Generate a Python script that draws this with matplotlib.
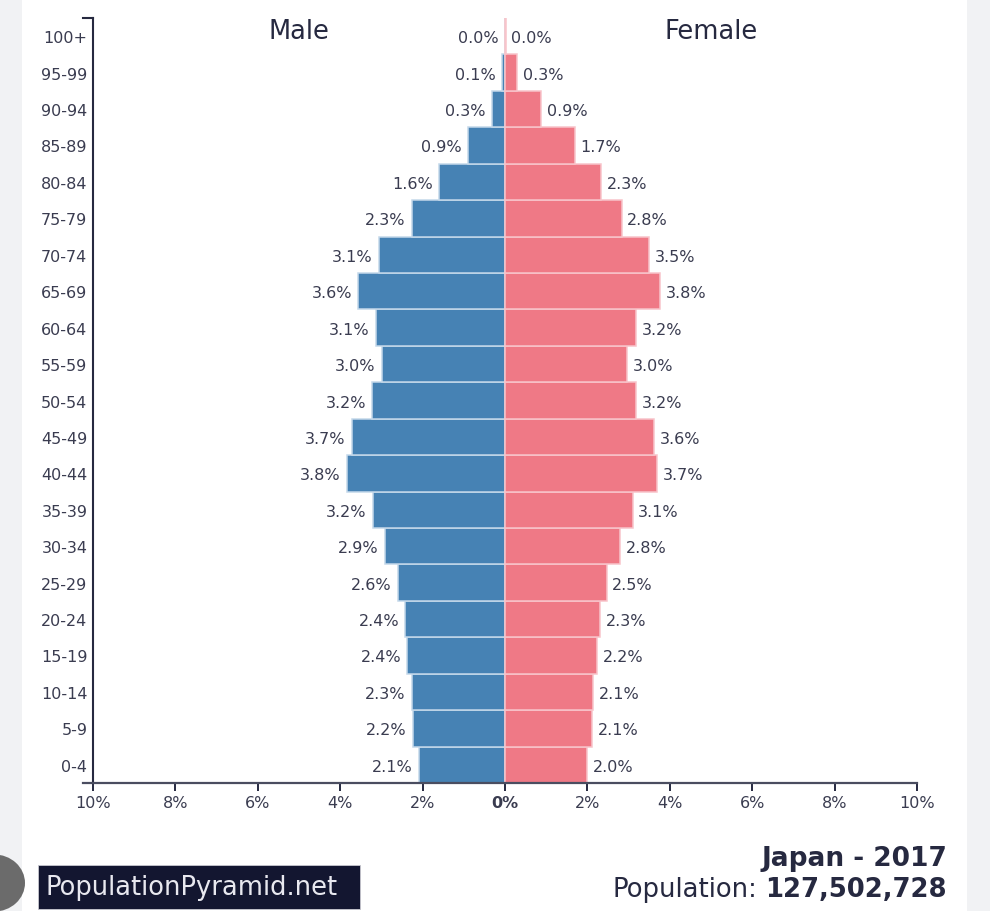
import matplotlib
matplotlib.use("Agg")
import matplotlib.pyplot as plt
from matplotlib.patches import Rectangle, Circle
from matplotlib.lines import Line2D

# ---- data ----
age_groups = ["0-4", "5-9", "10-14", "15-19", "20-24", "25-29", "30-34", "35-39",
              "40-44", "45-49", "50-54", "55-59", "60-64", "65-69", "70-74", "75-79",
              "80-84", "85-89", "90-94", "95-99", "100+"]
male = [2.08, 2.23, 2.26, 2.37, 2.42, 2.60, 2.92, 3.21, 3.84, 3.72, 3.22, 2.99,
        3.14, 3.56, 3.06, 2.26, 1.59, 0.89, 0.31, 0.07, 0.01]
female = [1.99, 2.11, 2.14, 2.24, 2.31, 2.47, 2.79, 3.10, 3.70, 3.62, 3.18, 2.97,
          3.18, 3.77, 3.49, 2.83, 2.34, 1.69, 0.88, 0.29, 0.02]
x_ticks = [-10, -8, -6, -4, -2, 0, 2, 4, 6, 8, 10]
country = "Japan"
year = "2017"
population = "127,502,728"
site = "PopulationPyramid.net"

# ---- style ----
W, H = 990, 912
MALE_C = "#4682b4"
FEMALE_C = "#ef7986"
TXT = "#3a3c50"
DARK = "#262940"
FS = 11.5
plt.rcParams['font.family'] = ['DejaVu Sans']

fig = plt.figure(figsize=(W / 100, H / 100), dpi=100)
fig.patch.set_facecolor("#f1f2f4")
# white panel
fig.patches.append(Rectangle((22 / W, 0), (967 - 22) / W, 1, transform=fig.transFigure,
                             facecolor="white", edgecolor="none", zorder=-10))
# partial grey circle at bottom left (screenshot overlay)
fig.patches.append(Circle((-6 / W, 1 - 884 / H), 31 / W, transform=fig.transFigure,
                          facecolor="#6b6b6b", edgecolor="none", zorder=-5))

ax_l, ax_r, ax_t, ax_b = 93, 917, 19, 784
ax = fig.add_axes([ax_l / W, 1 - ax_b / H, (ax_r - ax_l) / W, (ax_b - ax_t) / H])
ax.set_facecolor("none")
ax.set_zorder(5)

y = list(range(len(age_groups)))
neg_male = [-v for v in male]
ax.barh(y, neg_male, height=1.0, color=MALE_C, edgecolor="#c4d8ea", linewidth=1.1)
ax.barh(y, female, height=1.0, color=FEMALE_C, edgecolor="#f8c4ca", linewidth=1.1)

for i, (m, f) in enumerate(zip(male, female)):
    ax.annotate(f"{m:.1f}%", xy=(-m, i), xytext=(-4.5, 0), textcoords="offset points",
                ha="right", va="center_baseline", fontsize=FS, color=TXT)
    ax.annotate(f"{f:.1f}%", xy=(f, i), xytext=(4, 0), textcoords="offset points",
                ha="left", va="center_baseline", fontsize=FS, color=TXT)

ax.set_xlim(-10, 10)
ax.set_ylim(-0.5, len(age_groups) - 0.5)

ax.set_yticks(y)
ax.set_yticklabels(age_groups, fontsize=FS, color=TXT)
ax.tick_params(axis="y", length=0, pad=4)

ax.set_xticks(x_ticks)
ax.set_xticklabels([f"{abs(v)}%" for v in x_ticks], fontsize=FS, color=TXT)
ax.tick_params(axis="x", length=6, width=1.4, color=DARK, pad=3)
for lbl in ax.get_xticklabels():
    if lbl.get_text() == "0%":
        lbl.set_fontweight("bold")

for s in ["top", "right"]:
    ax.spines[s].set_visible(False)
ax.spines["left"].set_color(DARK)
ax.spines["left"].set_linewidth(1.5)
ax.spines["bottom"].set_color("#4a4d60")
ax.spines["bottom"].set_linewidth(1.6)

# outer ticks of the y axis (d3 style)
ot = 10 / (ax_r - ax_l)
ax.add_line(Line2D([-ot, 0], [1, 1], transform=ax.transAxes, color=DARK, lw=1.5, clip_on=False))
ax.add_line(Line2D([-ot, 0], [0, 0], transform=ax.transAxes, color="#4a4d60", lw=1.6, clip_on=False))

top_row = len(age_groups) - 1
ax.text(-5, top_row - 0.05, "Male", ha="center", va="baseline", fontsize=18.5, color=DARK)
ax.text(5, top_row - 0.05, "Female", ha="center", va="baseline", fontsize=18.5, color=DARK)

# ---- footer ----
fig.patches.append(Rectangle((38 / W, 1 - 910 / H), (360 - 38) / W, (910 - 866) / H,
                             transform=fig.transFigure, facecolor="#131630",
                             edgecolor="#c8c8d0", linewidth=0.6, zorder=2))
fig.text(46 / W, 1 - 895 / H, site, ha="left", va="baseline", fontsize=18.5,
         color="#e8e8ef", zorder=3)

fig.text(947 / W, 1 - 866 / H, f"{country} - {year}", ha="right", va="baseline",
         fontsize=19, fontweight="bold", color=DARK)
t_num = fig.text(947 / W, 1 - 897 / H, population, ha="right", va="baseline",
                 fontsize=18.6, fontweight="bold", color=DARK)
fig.canvas.draw()
bb = t_num.get_window_extent(renderer=fig.canvas.get_renderer())
fig.text((bb.x0 - 8) / W, 1 - 897 / H, "Population:", ha="right", va="baseline",
         fontsize=18.6, color=DARK)

fig.savefig("out.png", dpi=100, facecolor=fig.get_facecolor())
